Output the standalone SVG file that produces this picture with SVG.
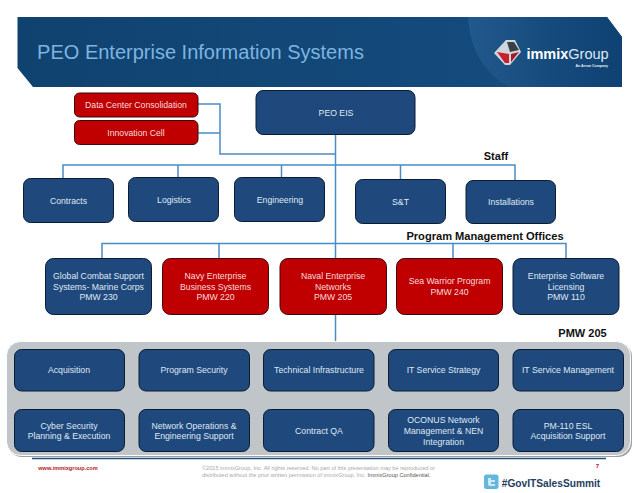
<svg xmlns="http://www.w3.org/2000/svg" width="638" height="493" viewBox="0 0 638 493">
<defs>
<linearGradient id="hdr" x1="0" y1="0" x2="1" y2="0"><stop offset="0" stop-color="#10426f"/><stop offset="0.7" stop-color="#134a7b"/><stop offset="1" stop-color="#174f82"/></linearGradient>
<linearGradient id="sw" x1="0" y1="0" x2="1" y2="0"><stop offset="0" stop-color="#22598c"/><stop offset="0.5" stop-color="#164b7d"/><stop offset="1" stop-color="#0f4273"/></linearGradient>
</defs>
<style>
text{font-family:"Liberation Sans",Arial,sans-serif;text-anchor:middle}
.b{fill:#1f497d;stroke:#0b1c33;stroke-width:1}
.r{fill:#c00000;stroke:#3c0a0a;stroke-width:1}
.t{font-size:8.7px;fill:#dfe8f2}
.tr{font-size:8.7px;fill:#f6dcdc}
.h{font-size:11px;font-weight:bold;fill:#111}
.l{fill:none;stroke:#4a8cc7;stroke-width:1.5}
</style>
<rect width="638" height="493" fill="#fff"/>
<g id="header">
<path d="M17.500 17H607L622 37V87H33L17.500 68Z" fill="url(#hdr)"/>
<path d="M468 17C470 50 485 75 510 87H622V37L607 17Z" fill="url(#sw)"/>
<text x="200.500" y="59" style="font-size:20px;fill:#7db4e0">PEO Enterprise Information Systems</text>
<g id="logo">
<path d="M494 53L506 40H515L521 52L510 65H505Z" fill="#cfd6dc"/>
<path d="M507 42H514L519 50L510 52Z" fill="#3a4048"/>
<path d="M497 52L509 54V63L505 63Z" fill="#c8202c"/>
<path d="M511 54L519 52L511 62Z" fill="#a81a24"/>
</g>
<text x="567.500" y="58.500" style="font-size:14.500px;font-weight:bold;fill:#fff">immix<tspan font-weight="normal" fill="#dfe8f2">Group</tspan></text>
<text x="608" y="67" style="font-size:3.500px;font-weight:bold;fill:#e6eef5;text-anchor:end">An Arrow Company</text>
</g>
<g id="connectors">
<path class="l" d="M198 104H220V154H335.500M198 133H220M335.500 135V343M63 178V165H515V180M178 165V177M281.500 165V177M400.500 165V179"/>
<path class="l" d="M102 258V243.500H566V258M219 243.500V258M453 243.500V258"/>
</g>
<g id="data-center"><rect class="r" x="74.500" y="93" width="123.500" height="24" rx="5"/><text class="tr" x="136" y="108">Data Center Consolidation</text></g>
<g id="innovation"><rect class="r" x="74.500" y="120.500" width="123.500" height="24" rx="5"/><text class="tr" x="136" y="136">Innovation Cell</text></g>
<g id="peo-eis"><rect class="b" x="256" y="90.500" width="159" height="44" rx="7"/><text class="t" x="336" y="116">PEO EIS</text></g>
<text class="h" x="496" y="160">Staff</text>
<g id="contracts"><rect class="b" x="23.500" y="178.500" width="90" height="44" rx="7"/><text class="t" x="68.500" y="204">Contracts</text></g>
<g id="logistics"><rect class="b" x="128.500" y="177.500" width="90" height="44" rx="7"/><text class="t" x="174" y="203">Logistics</text></g>
<g id="engineering"><rect class="b" x="234.500" y="177.500" width="90" height="44" rx="7"/><text class="t" x="280" y="203">Engineering</text></g>
<g id="st"><rect class="b" x="355.500" y="179.500" width="90" height="44" rx="7"/><text class="t" x="400.500" y="205">S&amp;T</text></g>
<g id="installations"><rect class="b" x="466" y="180.500" width="89.500" height="43" rx="7"/><text class="t" x="511" y="205">Installations</text></g>
<text class="h" x="485" y="240" style="font-size:11.100px">Program Management Offices</text>
<g id="pmw230"><rect class="b" x="45.500" y="258.500" width="106" height="56" rx="8"/><text class="t" x="98.500" y="279">Global Combat Support</text><text class="t" x="98.500" y="290">Systems- Marine Corps</text><text class="t" x="98.500" y="300">PMW 230</text></g>
<g id="pmw220"><rect class="r" x="162.500" y="258.500" width="106" height="56" rx="8"/><text class="tr" x="215.500" y="279">Navy Enterprise</text><text class="tr" x="215.500" y="290">Business Systems</text><text class="tr" x="215.500" y="300">PMW 220</text></g>
<g id="pmw205"><rect class="r" x="280" y="258.500" width="106.500" height="56" rx="8"/><text class="tr" x="333" y="279">Naval Enterprise</text><text class="tr" x="333" y="290">Networks</text><text class="tr" x="333" y="300">PMW 205</text></g>
<g id="pmw240"><rect class="r" x="396.500" y="258.500" width="106" height="56" rx="8"/><text class="tr" x="449.500" y="284">Sea Warrior Program</text><text class="tr" x="449.500" y="295">PMW 240</text></g>
<g id="pmw110"><rect class="b" x="513" y="258.500" width="106" height="56" rx="8"/><text class="t" x="566" y="279">Enterprise Software</text><text class="t" x="566" y="290">Licensing</text><text class="t" x="566" y="300">PMW 110</text></g>
<text class="h" x="582.500" y="337">PMW 205</text>
<g id="panel">
<path d="M32 458.500H606" stroke="#1f4e79" stroke-width="1.500" fill="none"/>
<rect x="8" y="343" width="624" height="114" rx="14" fill="#9aa0a4"/>
<rect x="6.500" y="341.500" width="624" height="114" rx="14" fill="#bfc5c8" stroke="#fff" stroke-width="1"/>
</g>
<g id="acquisition"><rect class="b" x="14.500" y="349.500" width="110" height="41.500" rx="7"/><text class="t" x="69" y="373">Acquisition</text></g>
<g id="program-security"><rect class="b" x="139" y="349.500" width="110.500" height="41.500" rx="7"/><text class="t" x="194" y="373">Program Security</text></g>
<g id="tech-infra"><rect class="b" x="263.500" y="349.500" width="110.500" height="41.500" rx="7"/><text class="t" x="319" y="373">Technical Infrastructure</text></g>
<g id="it-strategy"><rect class="b" x="388.500" y="349.500" width="110" height="41.500" rx="7"/><text class="t" x="443.500" y="373">IT Service Strategy</text></g>
<g id="it-management"><rect class="b" x="513" y="349.500" width="110.500" height="41.500" rx="7"/><text class="t" x="568" y="373">IT Service Management</text></g>
<g id="cyber"><rect class="b" x="14.500" y="409.500" width="110" height="42" rx="7"/><text class="t" x="69" y="429">Cyber Security</text><text class="t" x="69" y="439">Planning &amp;  Execution</text></g>
<g id="netops"><rect class="b" x="139" y="409.500" width="110.500" height="42" rx="7"/><text class="t" x="194" y="429">Network Operations &amp;</text><text class="t" x="194" y="439">Engineering Support</text></g>
<g id="contract-qa"><rect class="b" x="263.500" y="409.500" width="110.500" height="42" rx="7"/><text class="t" x="319" y="434">Contract QA</text></g>
<g id="oconus"><rect class="b" x="388.500" y="409.500" width="110" height="42" rx="7"/><text class="t" x="443.500" y="423">OCONUS Network</text><text class="t" x="443.500" y="434">Management &amp; NEN</text><text class="t" x="443.500" y="445">Integration</text></g>
<g id="pm110"><rect class="b" x="513" y="409.500" width="110.500" height="42" rx="7"/><text class="t" x="568" y="429">PM-110 ESL</text><text class="t" x="568" y="439">Acquisition Support</text></g>
<g id="footer">
<text x="68" y="470" style="font-size:5.600px;font-weight:bold;fill:#b0202c">www.immixgroup.com</text>
<text x="202" y="470" style="font-size:5.600px;fill:#a8a8a8;text-anchor:start">©2015 immixGroup, Inc. All rights reserved. No part of this presentation may be reproduced or</text>
<text x="202" y="477" style="font-size:5.600px;fill:#a8a8a8;text-anchor:start">distributed without the prior written permission of immixGroup, Inc. <tspan fill="#555">ImmixGroup Confidential.</tspan></text>
<text x="597.500" y="468" style="font-size:6px;font-weight:bold;fill:#b0202c">7</text>
<rect x="484" y="474.500" width="14.500" height="14.500" rx="2.500" fill="#63b7dc"/>
<path d="M488 478V484Q488 486 490 486H495V484H491V482H495V480H491V478Z" fill="#cfe8f3"/>
<text x="551" y="486.700" style="font-size:10.200px;font-weight:bold;fill:#1f4060">#GovITSalesSummit</text>
</g>
</svg>
